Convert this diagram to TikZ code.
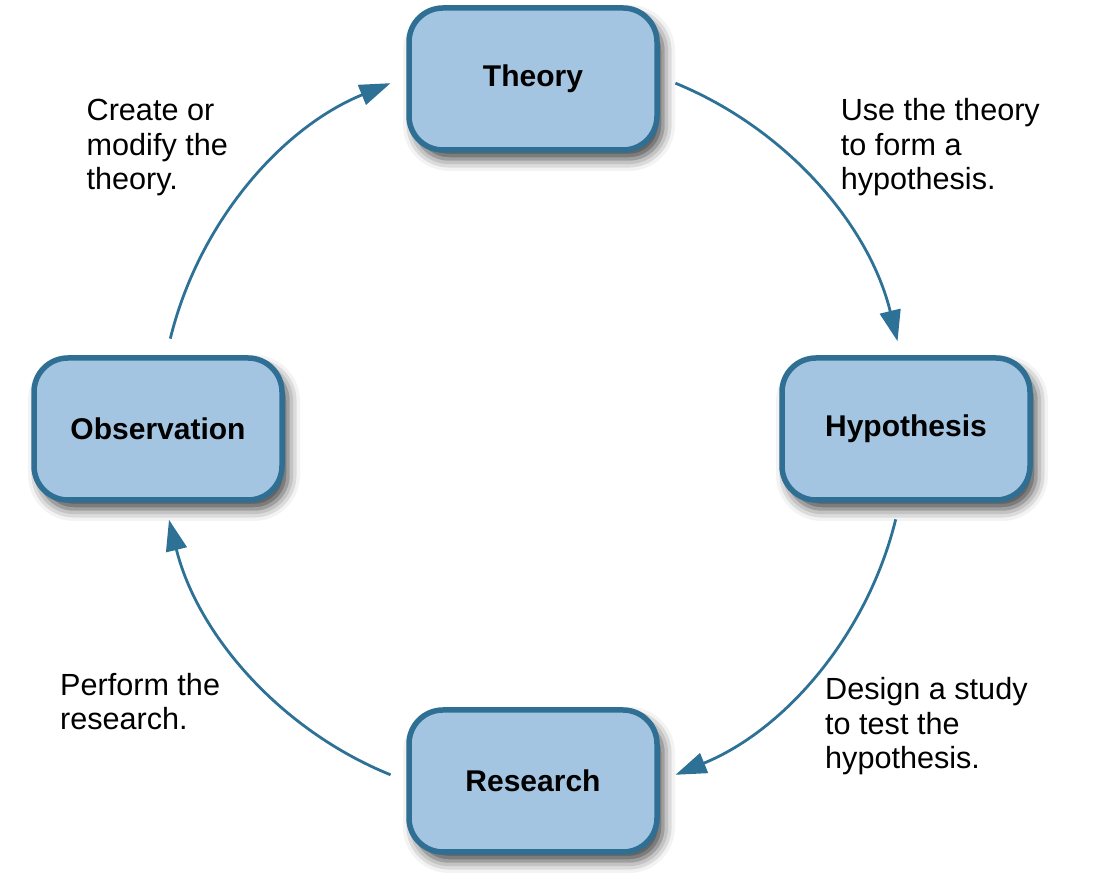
\documentclass[tikz,border=0pt]{standalone}
\usepackage{fontspec}
\setmainfont{Liberation Sans}
\usetikzlibrary{arrows.meta,shadows.blur}
\definecolor{boxfill}{HTML}{A3C5E1}
\definecolor{boxline}{HTML}{2F6F94}
\definecolor{arrcol}{HTML}{2E7196}
\tikzset{
  stagebox/.style={draw=boxline, fill=boxfill, line width=5.5pt, rounded corners=34pt,
    minimum width=248pt, minimum height=142pt, inner sep=0pt,
    font=\fontsize{30pt}{34pt}\selectfont\bfseries,
    blur shadow={shadow xshift=6pt, shadow yshift=-9pt, shadow blur radius=12pt, shadow opacity=75}},
  note/.style={align=left, anchor=base west, inner sep=0pt, font=\fontsize{30.6pt}{34.5pt}\selectfont},
  cyc/.style={draw=arrcol, line width=2.8pt, -{Triangle[length=31pt,width=21pt]}, bend left=27, looseness=0.9}
}
\begin{document}
\begin{tikzpicture}[x=1pt,y=1pt]
\useasboundingbox (0,0) rectangle (1098,890);
\node[stagebox] (theory) at (533,811) {Theory};
\node[stagebox] (hyp) at (906,461) {Hypothesis};
\node[stagebox] (obs) at (158,461) {Observation};
\node[stagebox] (res) at (533,109) {Research};

\draw[cyc] ([shift={(15.7pt,-4.2pt)}]theory.east) to ([shift={(-8.5pt,14pt)}]hyp.north);
\draw[cyc] ([shift={(-10.3pt,-16.6pt)}]hyp.south) to ([shift={(15.7pt,6.2pt)}]res.east);
\draw[cyc] ([shift={(-15.7pt,6.2pt)}]res.west) to ([shift={(11pt,-17pt)}]obs.south);
\draw[cyc] ([shift={(12.3pt,16.6pt)}]obs.north) to ([shift={(-15.7pt,-4.2pt)}]theory.west);

\node[note] (n1) at (86.5,700) {Create or\\modify the\\theory.};
\node[note] (n2) at (840.6,700) {Use the theory\\to form a\\hypothesis.};
\node[note] (n3) at (60,160) {Perform the\\research.};
\node[note] (n4) at (825,121) {Design a study\\to test the\\hypothesis.};
\end{tikzpicture}
\end{document}
